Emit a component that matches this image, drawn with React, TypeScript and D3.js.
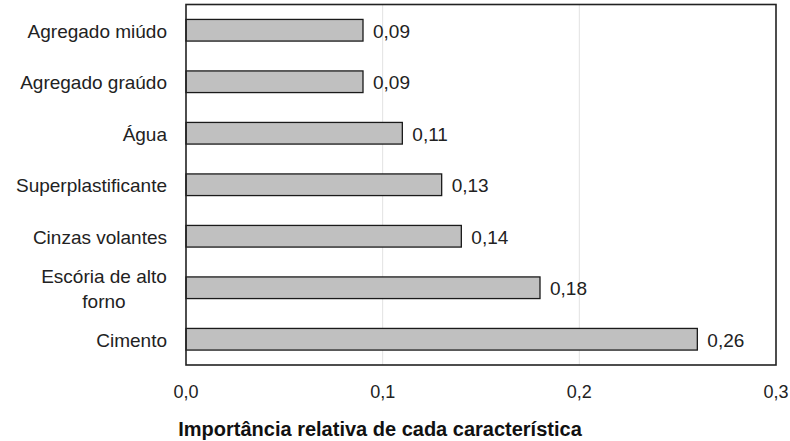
import React from "react";
import * as d3 from "d3";

const categories = [
  "Agregado miúdo",
  "Agregado graúdo",
  "Água",
  "Superplastificante",
  "Cinzas volantes",
  "Escória de alto forno",
  "Cimento",
];
const values = [0.09, 0.09, 0.11, 0.13, 0.14, 0.18, 0.26];
const tickValues = [0, 0.1, 0.2, 0.3];
const xTitle = "Importância relativa de cada característica";

const W = 790;
const H = 441;
const left = 186;
const right = 776;
const top = 4.5;
const bottom = 365;
const font = "'Liberation Sans', Arial, sans-serif";
const textColor = "#222";

const fmt = (v: number, digits: number) => v.toFixed(digits).replace(".", ",");

// Long category names wrap onto two lines
const labelLines: Record<string, string[]> = {
  "Escória de alto forno": ["Escória de alto", "forno"],
};

export default function App() {
  const x = d3.scaleLinear().domain([0, 0.3]).range([left, right]);
  const y = d3
    .scaleBand<string>()
    .domain(categories)
    .range([top, bottom])
    .paddingInner(0.58)
    .paddingOuter(0.29);
  const bh = y.bandwidth();

  return (
    <svg width={W} height={H} style={{ display: "block", position: "absolute", left: 0, top: 0 }}>
      <rect x={0} y={0} width={W} height={H} fill="#fff" />
      {tickValues.slice(1, -1).map((t) => (
        <line key={t} x1={x(t)} x2={x(t)} y1={top} y2={bottom} stroke="#e2e2e2" strokeWidth={1} />
      ))}
      {categories.map((c, i) => {
        const yc = (y(c) as number) + bh / 2;
        const lines = labelLines[c] || [c];
        return (
          <g key={c}>
            <rect
              x={x(0)}
              y={y(c)}
              width={x(values[i]) - x(0)}
              height={bh}
              fill="#c0c0c0"
              stroke="#1a1a1a"
              strokeWidth={1.3}
            />
            <text
              x={x(values[i]) + 10}
              y={yc + 7.5}
              fontFamily={font}
              fontSize={19}
              fill={textColor}
            >
              {fmt(values[i], 2)}
            </text>
            {lines.length === 1 ? (
              <text x={167} y={yc + 7.5} textAnchor="end" fontFamily={font} fontSize={19} fill={textColor}>
                {c}
              </text>
            ) : (
              lines.map((ln, k) => (
                <text
                  key={k}
                  x={104}
                  y={yc + 7.5 + (k - 0.5) * 25}
                  textAnchor="middle"
                  fontFamily={font}
                  fontSize={19}
                  fill={textColor}
                >
                  {ln}
                </text>
              ))
            )}
          </g>
        );
      })}
      <rect x={left} y={top} width={right - left} height={bottom - top} fill="none" stroke="#222" strokeWidth={1.6} />
      {tickValues.map((t) => (
        <text key={t} x={x(t)} y={398} textAnchor="middle" fontFamily={font} fontSize={18} fill={textColor}>
          {fmt(t, 1)}
        </text>
      ))}
      <text x={380} y={436} textAnchor="middle" fontFamily={font} fontSize={20} fontWeight="bold" fill="#111">
        {xTitle}
      </text>
    </svg>
  );
}
